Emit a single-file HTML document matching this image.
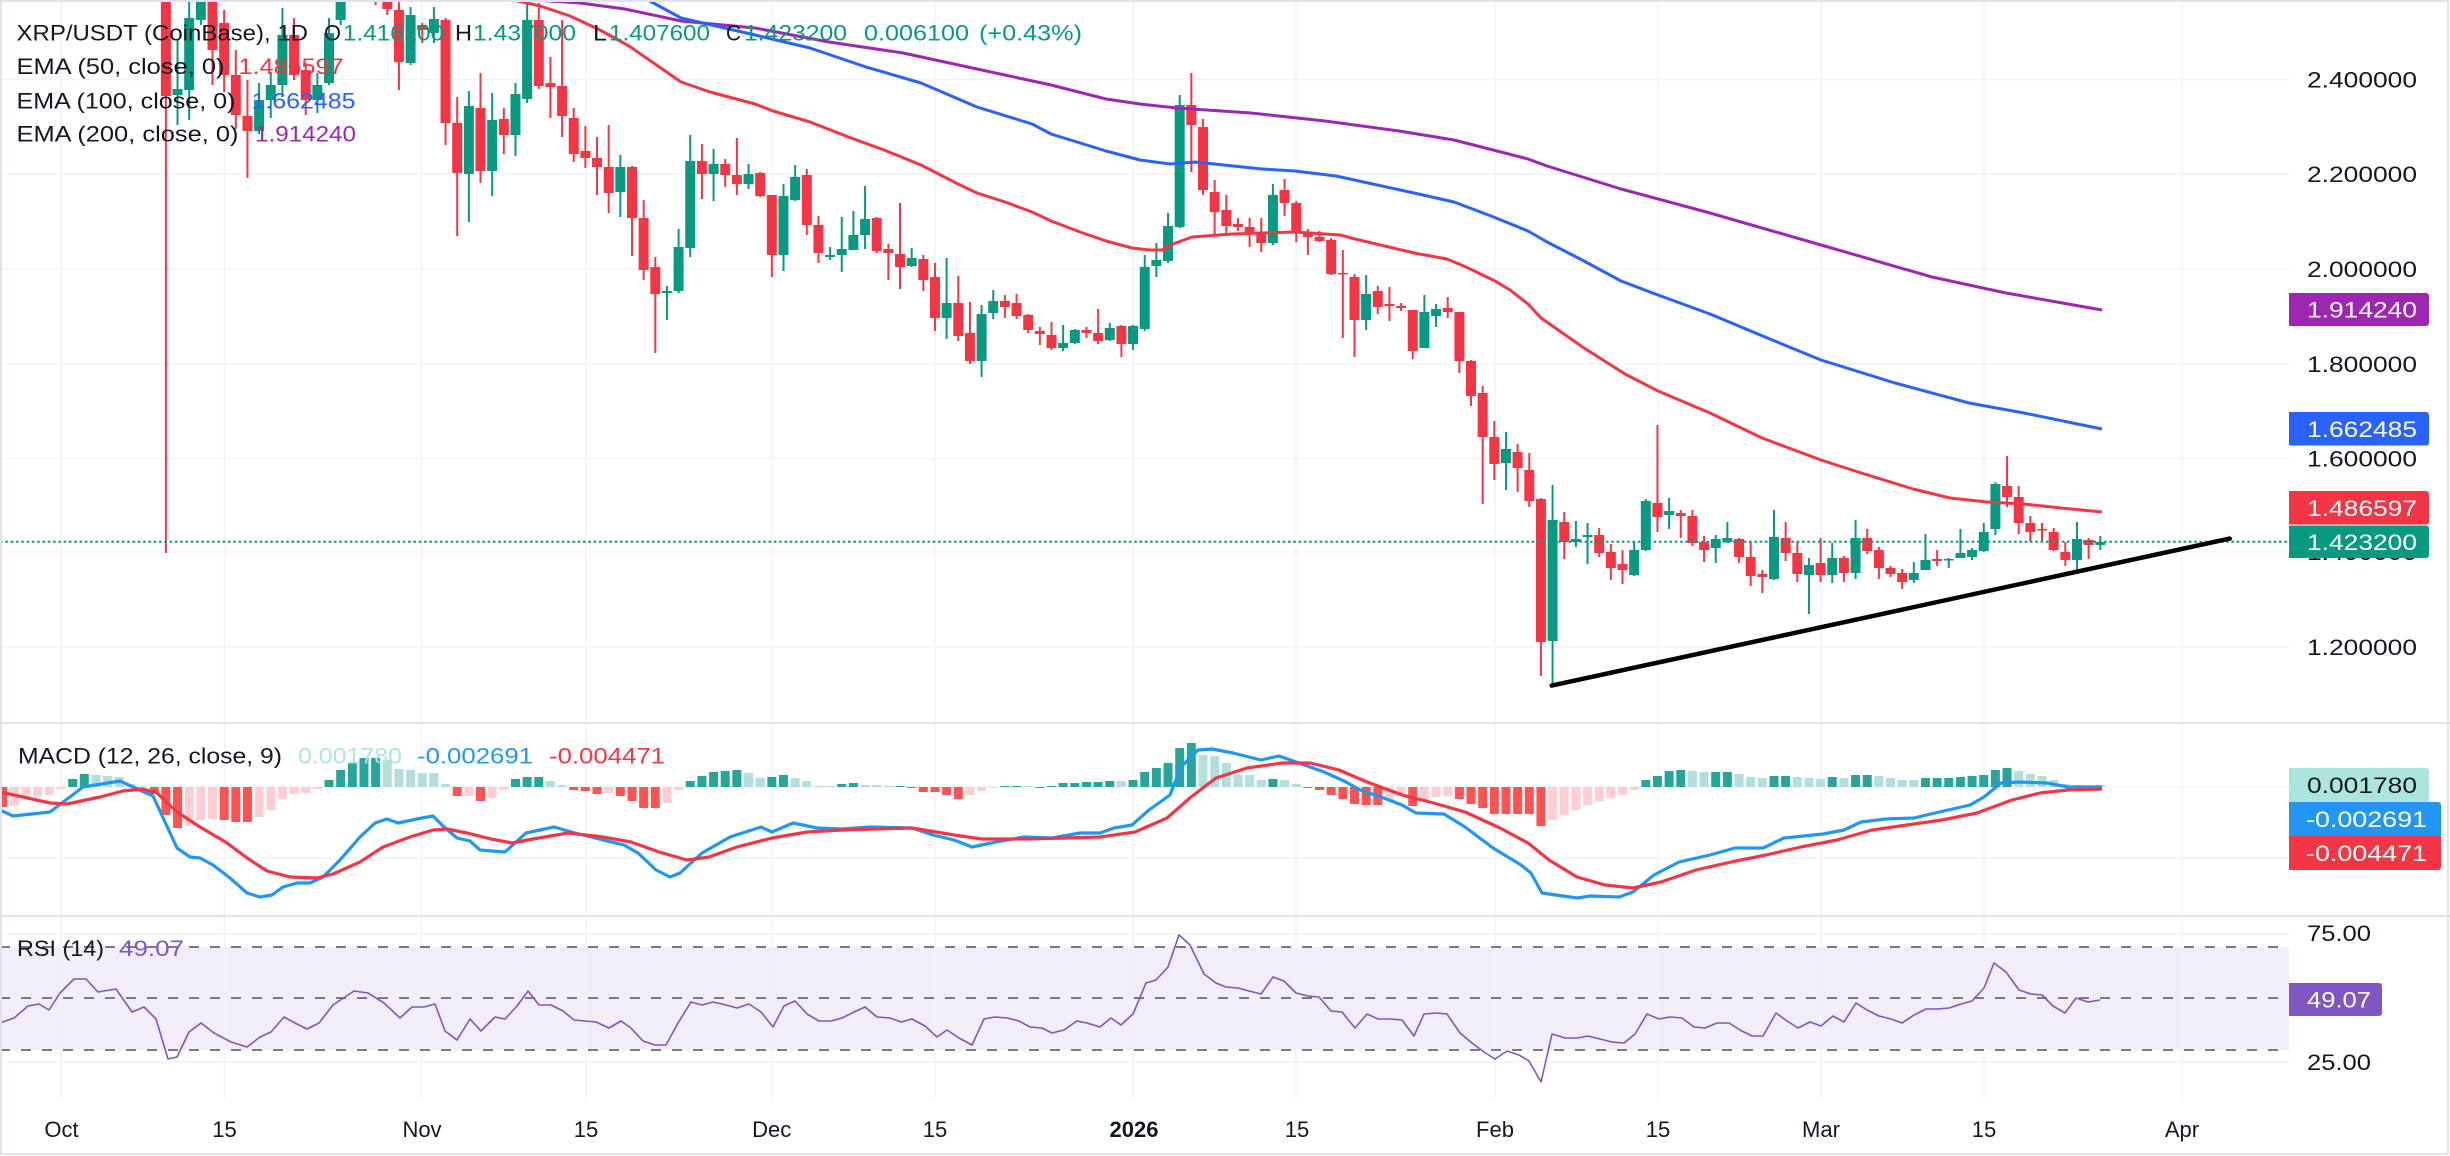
<!DOCTYPE html>
<html>
<head>
<meta charset="utf-8">
<style>
html,body{margin:0;padding:0;background:#fff;}
body{width:2450px;height:1156px;overflow:hidden;}
svg{display:block;}
text{font-family:"Liberation Sans",sans-serif;}
</style>
</head>
<body>
<svg id="c" width="2450" height="1156" viewBox="0 0 2450 1156" xmlns="http://www.w3.org/2000/svg">
<rect x="0" y="0" width="2450" height="1156" fill="#ffffff"/>
<!-- RSI band -->
<rect x="0" y="947" width="2289" height="103" fill="#f1edf9"/>
<!-- grid -->
<g stroke="#f0f3fa" stroke-width="1.5" fill="none">
<line x1="0" y1="79.5" x2="2289" y2="79.5"/>
<line x1="0" y1="174" x2="2289" y2="174"/>
<line x1="0" y1="269" x2="2289" y2="269"/>
<line x1="0" y1="364" x2="2289" y2="364"/>
<line x1="0" y1="458.5" x2="2289" y2="458.5"/>
<line x1="0" y1="552" x2="2289" y2="552"/>
<line x1="0" y1="647" x2="2289" y2="647"/>
<line x1="0" y1="787" x2="2289" y2="787"/>
<line x1="0" y1="858" x2="2289" y2="858"/>
<line x1="0" y1="934" x2="2289" y2="934"/>
<line x1="0" y1="1062" x2="2289" y2="1062"/>
<line x1="61" y1="0" x2="61" y2="1098"/>
<line x1="224.5" y1="0" x2="224.5" y2="1098"/>
<line x1="421.6" y1="0" x2="421.6" y2="1098"/>
<line x1="585.8" y1="0" x2="585.8" y2="1098"/>
<line x1="771.7" y1="0" x2="771.7" y2="1098"/>
<line x1="935" y1="0" x2="935" y2="1098"/>
<line x1="1133" y1="0" x2="1133" y2="1098"/>
<line x1="1296" y1="0" x2="1296" y2="1098"/>
<line x1="1495" y1="0" x2="1495" y2="1098"/>
<line x1="1658" y1="0" x2="1658" y2="1098"/>
<line x1="1821" y1="0" x2="1821" y2="1098"/>
<line x1="1984" y1="0" x2="1984" y2="1098"/>
<line x1="2182" y1="0" x2="2182" y2="1098"/>
</g>
<!-- RSI dashed levels -->
<g stroke="#787b86" stroke-width="2" stroke-dasharray="10 11" fill="none">
<line x1="0" y1="947" x2="2289" y2="947"/>
<line x1="0" y1="998" x2="2289" y2="998"/>
<line x1="0" y1="1050" x2="2289" y2="1050"/>
</g>
<!-- pane separators -->
<line x1="0" y1="723" x2="2450" y2="723" stroke="#e0e3eb" stroke-width="2"/>
<line x1="0" y1="916" x2="2450" y2="916" stroke="#e0e3eb" stroke-width="2"/>

<g id="main"></g>
<g id="hist"></g>

<!-- EMAs -->
<polyline fill="none" stroke="#9c27b0" stroke-width="3" stroke-linejoin="round" points="470,-4 536,0 580,3 625,9 681,21 755,28 829,42 903,53 977,69 1051,85 1106,99 1140,104 1177,108 1251,113 1325,121 1399,131 1454,140 1528,159 1547,166 1621,189 1710,213 1821,245 1932,277 2006,293 2102,310"/>
<polyline fill="none" stroke="#2962ff" stroke-width="3" stroke-linejoin="round" points="625,-8 648,0 681,18 755,35 810,48 866,67 921,83 977,107 1032,124 1051,134 1106,151 1140,160 1170,164 1195,162 1262,169 1295,171 1336,176 1414,193 1454,202 1491,216 1528,231 1547,242 1584,261 1621,281 1658,295 1710,314 1765,337 1821,360 1895,383 1969,403 2024,413 2102,429"/>
<polyline fill="none" stroke="#f23645" stroke-width="3" stroke-linejoin="round" points="505,-2 540,6 570,16 600,30 629,46 655,64 681,82 710,92 755,104 773,111 810,122 851,138 884,150 921,165 958,184 977,193 1005,202 1032,212 1051,221 1080,232 1106,241 1132,248 1150,250 1162,250 1173,244 1192,237 1232,234 1295,232 1340,235 1355,239 1414,253 1447,259 1466,267 1495,281 1510,290 1528,304 1541,318 1584,348 1625,374 1658,391 1710,413 1762,438 1821,460 1858,472 1913,489 1950,498 1987,502 2024,504 2061,508 2102,512"/>

<!-- last price dotted line -->
<line x1="0" y1="541.8" x2="2289" y2="541.8" stroke="#089981" stroke-width="2" stroke-dasharray="2.6 2.7"/>
<!-- trend line -->
<line x1="1551.7" y1="685.6" x2="2229.7" y2="538.6" stroke="#000000" stroke-width="4.5" stroke-linecap="round"/>

<!-- MACD lines -->
<polyline fill="none" stroke="#2196f3" stroke-width="3.2" stroke-linejoin="round" points="0,810 13,816 50,812 83,787 120,781 133,787 153,796 177,848 190,857 200,858 213,865 230,878 247,893 260,897 272,895 283,887 297,883 310,883 323,877 340,860 360,837 375,823 387,819 398,823 417,819 433,816 443,826 457,838 470,841 480,850 505,852 526,833 554,827 575,833 603,840 624,845 638,853 656,870 670,877 680,873 702,853 730,837 761,827 772,832 793,823 817,828 842,829 870,827 912,828 933,835 954,840 972,847 996,842 1024,837 1052,838 1080,833 1100,833 1114,828 1132,825 1149,810 1170,795 1181,767 1198,750 1212,749 1233,753 1261,760 1279,756 1296,762 1324,772 1346,782 1360,790 1381,797 1402,805 1416,813 1444,814 1465,827 1493,848 1521,865 1531,873 1542,893 1577,898 1591,896 1619,897 1633,892 1654,875 1679,862 1710,855 1735,848 1763,848 1784,838 1823,834 1844,830 1861,822 1886,819 1914,818 1935,813 1970,805 1984,797 2001,783 2019,782 2047,783 2068,787 2102,787"/>
<polyline fill="none" stroke="#f23645" stroke-width="3.2" stroke-linejoin="round" points="0,792 50,803 67,804 100,797 123,791 143,789 157,793 177,812 200,827 227,843 247,858 267,871 290,877 317,878 333,874 360,862 383,847 410,837 433,830 447,829 467,833 491,839 512,843 533,839 568,833 603,837 631,842 659,852 687,860 709,857 737,847 772,838 807,832 842,830 912,828 954,835 982,839 1024,839 1066,838 1100,837 1135,832 1167,818 1191,797 1216,778 1247,768 1282,763 1310,763 1339,770 1367,782 1402,795 1430,802 1465,812 1500,828 1528,843 1549,860 1577,877 1605,885 1633,888 1661,882 1696,870 1731,862 1766,855 1801,847 1837,840 1872,830 1907,825 1942,820 1977,813 2012,800 2040,793 2068,790 2102,789"/>

<!-- RSI line -->
<polyline fill="none" stroke="#7e57c2" stroke-width="1.6" stroke-linejoin="round" points="0,1023 14,1018 28,1006 39,1004 49,1010 60,993 74,979 86,979 98,992 116,989 132,1012 144,1007 156,1019 168,1059 177,1057 189,1032 201,1023 214,1033 231,1042 247,1047 260,1037 271,1032 284,1017 295,1023 307,1029 319,1023 333,1005 354,991 368,993 384,1003 400,1018 412,1007 424,1007 435,1004 445,1031 457,1040 470,1019 481,1031 495,1017 505,1019 517,1006 528,991 539,1005 551,1005 563,1011 574,1020 596,1022 609,1028 621,1021 631,1028 643,1041 655,1045 666,1045 678,1023 691,1002 702,1005 713,1002 726,1005 737,1008 749,1004 761,1012 773,1027 784,1006 795,1001 807,1014 819,1021 831,1021 842,1018 854,1012 865,1007 877,1017 890,1018 901,1022 912,1019 925,1026 937,1037 947,1030 959,1038 972,1045 984,1019 995,1017 1007,1018 1019,1021 1030,1027 1042,1028 1052,1033 1064,1030 1077,1021 1087,1023 1100,1027 1111,1018 1121,1025 1133,1014 1146,983 1156,980 1168,967 1179,935 1190,945 1204,974 1216,983 1226,987 1238,988 1249,991 1261,994 1273,977 1284,981 1296,993 1308,996 1319,997 1331,1011 1342,1012 1355,1028 1367,1014 1378,1019 1390,1019 1402,1020 1414,1036 1424,1014 1437,1013 1447,1014 1460,1033 1472,1043 1484,1052 1495,1059 1507,1051 1519,1055 1529,1061 1541,1082 1552,1034 1565,1038 1577,1038 1588,1036 1600,1039 1612,1042 1624,1043 1635,1034 1647,1014 1659,1019 1670,1017 1682,1018 1694,1027 1705,1028 1717,1023 1729,1023 1740,1030 1752,1036 1763,1036 1776,1013 1787,1021 1798,1028 1810,1022 1821,1026 1833,1016 1844,1022 1856,1003 1867,1010 1879,1016 1891,1019 1902,1023 1914,1015 1926,1009 1937,1009 1949,1008 1961,1004 1972,1001 1984,988 1994,963 2006,972 2019,990 2031,994 2042,995 2053,1006 2065,1013 2076,998 2088,1002 2100,1000"/>

<!-- clear price axis area -->
<rect x="2289" y="0" width="161" height="722" fill="#ffffff"/>
<rect x="2289" y="724" width="161" height="191" fill="#ffffff"/>
<rect x="2289" y="917" width="161" height="181" fill="#ffffff"/>
<rect x="0" y="1098" width="2450" height="58" fill="#ffffff"/>

<!-- Legend -->
<g font-size="22">
<text x="16.5" y="40.7" fill="#131722" textLength="291.5" lengthAdjust="spacingAndGlyphs">XRP/USDT (CoinBase), 1D</text>
<text x="324" y="40.7" fill="#131722" textLength="17" lengthAdjust="spacingAndGlyphs">O</text>
<text x="343" y="40.7" fill="#089981" textLength="101" lengthAdjust="spacingAndGlyphs">1.416100</text>
<text x="455" y="40.7" fill="#131722" textLength="17" lengthAdjust="spacingAndGlyphs">H</text>
<text x="473" y="40.7" fill="#089981" textLength="103" lengthAdjust="spacingAndGlyphs">1.437000</text>
<text x="593" y="40.7" fill="#131722" textLength="14" lengthAdjust="spacingAndGlyphs">L</text>
<text x="609" y="40.7" fill="#089981" textLength="101" lengthAdjust="spacingAndGlyphs">1.407600</text>
<text x="726" y="40.7" fill="#131722" textLength="15" lengthAdjust="spacingAndGlyphs">C</text>
<text x="744" y="40.7" fill="#089981" textLength="103" lengthAdjust="spacingAndGlyphs">1.423200</text>
<text x="864" y="40.7" fill="#089981" textLength="105" lengthAdjust="spacingAndGlyphs">0.006100</text>
<text x="979" y="40.7" fill="#089981" textLength="103" lengthAdjust="spacingAndGlyphs">(+0.43%)</text>

<text x="16.5" y="74" fill="#131722" textLength="208" lengthAdjust="spacingAndGlyphs">EMA (50, close, 0)</text>
<text x="238.5" y="74" fill="#f23645" textLength="105" lengthAdjust="spacingAndGlyphs">1.486597</text>
<text x="16.5" y="108.3" fill="#131722" textLength="219" lengthAdjust="spacingAndGlyphs">EMA (100, close, 0)</text>
<text x="251.5" y="108.3" fill="#2962ff" textLength="104" lengthAdjust="spacingAndGlyphs">1.662485</text>
<text x="16.5" y="141.7" fill="#131722" textLength="222" lengthAdjust="spacingAndGlyphs">EMA (200, close, 0)</text>
<text x="255" y="141.7" fill="#9c27b0" textLength="101" lengthAdjust="spacingAndGlyphs">1.914240</text>

<text x="18" y="763.5" fill="#131722" textLength="264" lengthAdjust="spacingAndGlyphs">MACD (12, 26, close, 9)</text>
<text x="298" y="763.5" fill="#ace5dc" textLength="104" lengthAdjust="spacingAndGlyphs">0.001780</text>
<text x="417" y="763.5" fill="#2196f3" textLength="116" lengthAdjust="spacingAndGlyphs">-0.002691</text>
<text x="549" y="763.5" fill="#f23645" textLength="116" lengthAdjust="spacingAndGlyphs">-0.004471</text>

<text x="17" y="956" fill="#131722" textLength="87" lengthAdjust="spacingAndGlyphs">RSI (14)</text>
<text x="119" y="956" fill="#7e57c2" textLength="65" lengthAdjust="spacingAndGlyphs">49.07</text>
</g>

<!-- Price axis labels -->
<g font-size="22" fill="#131722">
<text x="2307" y="87.5" textLength="110" lengthAdjust="spacingAndGlyphs">2.400000</text>
<text x="2307" y="182" textLength="110" lengthAdjust="spacingAndGlyphs">2.200000</text>
<text x="2307" y="277" textLength="110" lengthAdjust="spacingAndGlyphs">2.000000</text>
<text x="2307" y="372" textLength="110" lengthAdjust="spacingAndGlyphs">1.800000</text>
<text x="2307" y="466.5" textLength="110" lengthAdjust="spacingAndGlyphs">1.600000</text>
<text x="2307" y="560" textLength="110" lengthAdjust="spacingAndGlyphs">1.400000</text>
<text x="2307" y="655" textLength="110" lengthAdjust="spacingAndGlyphs">1.200000</text>
<text x="2307" y="941" textLength="64" lengthAdjust="spacingAndGlyphs">75.00</text>
<text x="2307" y="1070" textLength="64" lengthAdjust="spacingAndGlyphs">25.00</text>
</g>

<!-- badges -->
<path d="M2289,293 H2426 a3,3 0 0 1 3,3 V323 a3,3 0 0 1 -3,3 H2289 Z" fill="#9c27b0"/>
<path d="M2289,412 H2426 a3,3 0 0 1 3,3 V442.5 a3,3 0 0 1 -3,3 H2289 Z" fill="#2962ff"/>
<path d="M2289,491 H2426 a3,3 0 0 1 3,3 V521.5 a3,3 0 0 1 -3,3 H2289 Z" fill="#f23645"/>
<path d="M2289,525.5 H2426 a3,3 0 0 1 3,3 V555 a3,3 0 0 1 -3,3 H2289 Z" fill="#089981"/>
<path d="M2289,768 H2426 a3,3 0 0 1 3,3 V802 H2289 Z" fill="#ace5dc"/>
<path d="M2289,802 H2438 a3,3 0 0 1 3,3 V836 H2289 Z" fill="#2196f3"/>
<path d="M2289,836 H2441 V867 a3,3 0 0 1 -3,3 H2289 Z" fill="#f23645"/>
<path d="M2289,983 H2379 a3,3 0 0 1 3,3 V1013 a3,3 0 0 1 -3,3 H2289 Z" fill="#7e57c2"/>
<g font-size="22" fill="#ffffff">
<text x="2307" y="317.5" textLength="110" lengthAdjust="spacingAndGlyphs">1.914240</text>
<text x="2307" y="436.8" textLength="110" lengthAdjust="spacingAndGlyphs">1.662485</text>
<text x="2307" y="516" textLength="110" lengthAdjust="spacingAndGlyphs">1.486597</text>
<text x="2307" y="549.8" textLength="110" lengthAdjust="spacingAndGlyphs">1.423200</text>
<text x="2307" y="793" textLength="110" lengthAdjust="spacingAndGlyphs" fill="#131722">0.001780</text>
<text x="2306" y="827" textLength="121" lengthAdjust="spacingAndGlyphs">-0.002691</text>
<text x="2306" y="861" textLength="121" lengthAdjust="spacingAndGlyphs">-0.004471</text>
<text x="2307" y="1007.5" textLength="64" lengthAdjust="spacingAndGlyphs">49.07</text>
</g>

<!-- time axis -->
<g font-size="22" fill="#131722" text-anchor="middle">
<text x="61.5" y="1137">Oct</text>
<text x="224.5" y="1137">15</text>
<text x="422" y="1137">Nov</text>
<text x="586" y="1137">15</text>
<text x="771.7" y="1137">Dec</text>
<text x="935" y="1137">15</text>
<text x="1134" y="1137" font-weight="bold">2026</text>
<text x="1297" y="1137">15</text>
<text x="1495" y="1137">Feb</text>
<text x="1658" y="1137">15</text>
<text x="1821" y="1137">Mar</text>
<text x="1984" y="1137">15</text>
<text x="2182" y="1137">Apr</text>
</g>

<!-- outer border -->
<rect x="1" y="1" width="2447" height="1153" fill="none" stroke="#e0e3eb" stroke-width="2"/>
</svg>
<script>
(function(){
var NS="http://www.w3.org/2000/svg";
function X(d){return 61+d*11.653;}
var C=[[9,-200,96,-250,553],[10,95,89,40,125],[11,90,18,2,120],[12,20,-20,-40,25],[13,-10,50,-20,85],[14,23,75,10,92],[15,75,115,50,129],[16,116,131,80,178],[17,131,100,83,134],[18,100,85,72,118],[19,85,35,8,97],[20,35,75,18,80],[21,70,100,63,115],[22,100,85,73,113],[23,83,33,18,85],[24,20,-5,-10,25],[25,-5,-30,-40,0],[26,-30,-20,-50,-10],[27,-20,-10,-40,5],[28,-10,9,-20,15],[29,10,62,0,90],[30,63,15,7,65],[31,25,30,23,43],[32,33,19,7,43],[33,20,123,18,145],[34,123,173,97,236],[35,174,106,91,222],[36,108,171,73,183],[37,171,120,93,196],[38,119,135,108,154],[39,135,94,83,156],[40,99,20,2,103],[41,20,86,3,89],[42,83,87,57,118],[43,86,116,20,137],[44,118,154,108,162],[45,151,158,126,168],[46,158,167,137,195],[47,167,193,125,213],[48,192,167,155,217],[49,167,218,166,256],[50,218,270,200,280],[51,267,294,257,353],[52,293,291,286,320],[53,291,247,229,293],[54,248,161,135,257],[55,161,174,144,199],[56,174,164,149,201],[57,164,175,159,187],[58,175,184,138,195],[59,184,174,164,189],[60,173,196,172,197],[61,195,255,195,277],[62,255,196,184,271],[63,200,177,165,201],[64,175,225,169,235],[65,225,253,216,263],[66,257,255,247,260],[67,255,249,217,272],[68,250,235,211,250],[69,235,219,186,249],[70,218,251,217,253],[71,249,253,244,280],[72,254,267,203,289],[73,266,258,248,267],[74,259,280,255,291],[75,277,318,263,331],[76,318,303,258,339],[77,303,336,276,341],[78,333,361,302,364],[79,361,314,305,377],[80,313,301,290,319],[81,301,307,295,318],[82,303,316,294,319],[83,315,330,314,333],[84,331,334,327,345],[85,335,348,322,350],[86,348,343,325,351],[87,343,330,329,344],[88,330,333,327,338],[89,333,341,309,344],[90,340,328,323,341],[91,326,344,325,357],[92,344,326,325,350],[93,329,267,255,331],[94,266,260,243,277],[95,261,226,213,263],[96,227,105,95,228],[97,105,125,73,172],[98,127,190,119,195],[99,192,212,180,234],[100,210,226,195,233],[101,224,227,218,231],[102,227,234,218,247],[103,234,243,218,252],[104,243,195,184,245],[105,190,203,179,216],[106,203,233,201,242],[107,233,237,229,255],[108,237,241,231,242],[109,240,274,238,275],[110,273,274,250,338],[111,277,320,274,357],[112,320,294,275,330],[113,291,307,286,314],[114,304,306,287,321],[115,306,308,303,311],[116,310,351,310,359],[117,348,312,295,348],[118,316,309,304,327],[119,308,312,297,318],[120,312,361,312,373],[121,361,396,360,406],[122,393,437,386,504],[123,437,464,421,480],[124,463,449,432,490],[125,452,468,444,492],[126,470,501,453,507],[127,499,642,498,676],[128,641,520,485,685],[129,522,542,512,559],[130,542,539,521,547],[131,537,535,523,564],[132,535,553,528,557],[133,552,568,544,580],[134,564,570,550,584],[135,575,550,541,576],[136,550,501,499,551],[137,503,517,425,532],[138,515,511,498,529],[139,513,516,510,538],[140,516,543,510,546],[141,542,550,536,562],[142,548,539,535,563],[143,542,538,522,543],[144,539,557,538,563],[145,557,576,542,586],[146,574,577,570,593],[147,579,537,510,580],[148,538,553,522,561],[149,553,574,542,582],[150,575,565,558,614],[151,563,575,538,582],[152,575,558,543,583],[153,558,573,556,582],[154,573,538,520,579],[155,538,551,529,554],[156,550,568,547,579],[157,568,574,566,577],[158,573,582,569,589],[159,580,573,562,583],[160,570,560,534,570],[161,559,561,550,566],[162,560,559,558,568],[163,558,553,529,558],[164,557,550,548,560],[165,551,532,523,552],[166,529,484,482,535],[167,486,497,456,507],[168,497,523,486,534],[169,523,532,516,541],[170,529,530,523,542],[171,532,550,528,551],[172,552,560,542,566],[173,560,539,522,570],[174,540,545,538,559],[175,545,542,536,550]];
var g=document.getElementById("main");
function rect(parent,x,y,w,h,f){var r=document.createElementNS(NS,"rect");r.setAttribute("x",x);r.setAttribute("y",y);r.setAttribute("width",w);r.setAttribute("height",h);r.setAttribute("fill",f);parent.appendChild(r);}
C.forEach(function(c){
var x=X(c[0]),o=c[1],cl=c[2],h=c[3],l=c[4];
var col=cl<o?"#089981":"#f23645";
rect(g,x-1,h,2,Math.max(1,l-h),col);
var top=Math.min(o,cl),bh=Math.max(1.5,Math.abs(o-cl));
rect(g,x-5,top,10,bh,col);
});
var H="-20d -19l -10l -9l -8l -2l 8d 13d 12l 11l 10l 3l 1l -7d -28d -41d -39l -33l -32l -33d -35d -35d -30l -23l -12l -7l -6l -2l 7d 17d 24d 29d 29d 27l 18l 17l 14l 14l 3l -9d -9l -14d -11l -3l 8d 10d 10d 6l 2l -3d -4d -7d -6l -9d -14d -21d -21d -16l -3l 6d 11d 15d 16d 17d 14l 9l 10d 12d 9l 6l 1l 1l 3d 4d 2l 2l 1l 1d -1d -5d -5d -8d -12d -8l -4l -1l 1d 1d 1l -1d 1d 4d 4d 5d 5d 6d 6l 7d 15d 19d 24d 39d 44d 32l 31l 24l 12l 12l 7l 8d 7l 3l -1d -3d -8d -12d -17d -18d -18d -13l -9l -19d -13l -10l -9l -12d -17d -21d -27d -27d -27d -27d -39d -33l -28l -23l -18l -14l -11l -8l -3l 7d 11d 16d 17d 16l 15l 15d 15d 13l 10l 9l 11d 11d 10l 9l 8l 10d 9l 12d 12d 11l 9l 7l 7l 9d 9d 9d 10d 11d 12d 17d 19d 16l 13l 11l 7l 3l 2l 2l 2l".split(" ");
var hg=document.getElementById("hist");
H.forEach(function(s,i){
var d=i-5;var v=parseFloat(s);var t=s.charAt(s.length-1);
var col;
if(v>=0){col=(t=="d")?"#26a69a":"#b2dfdb";}else{col=(t=="d")?"#ff5252":"#ffcdd2";}
var x=X(d);
var hh=Math.max(1,Math.abs(v));
if(v>=0){rect(hg,x-4.5,787-hh,9,hh,col);}else{rect(hg,x-4.5,787,9,hh,col);}
});
})();
</script>
</body>
</html>
